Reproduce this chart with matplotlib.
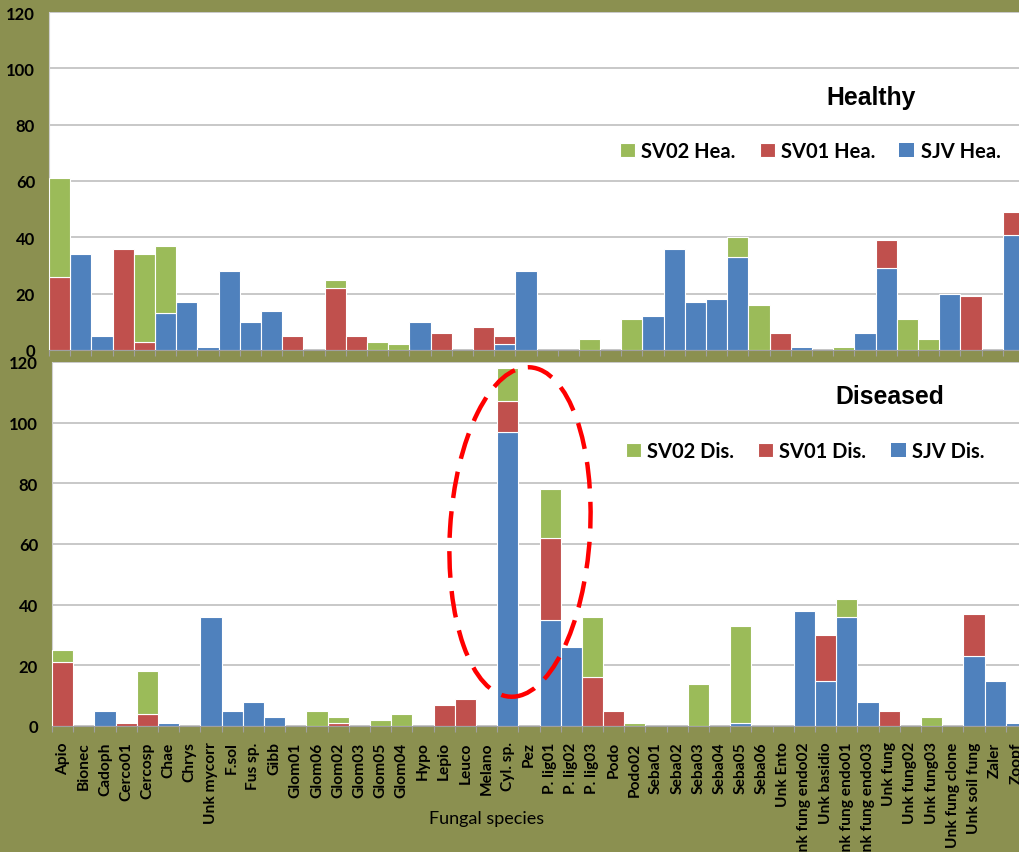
import matplotlib
matplotlib.use("Agg")
import matplotlib.pyplot as plt
from matplotlib.patches import Rectangle, Ellipse
import numpy as np

categories = ["Apio", "Bionec", "Cadoph", "Cerco01", "Cercosp", "Chae", "Chrys",
              "Unk mycorr", "F.sol", "Fus sp.", "Gibb", "Glom01", "Glom06", "Glom02",
              "Glom03", "Glom05", "Glom04", "Hypo", "Lepio", "Leuco", "Melano",
              "Cyl. sp.", "Pez", "P. lig01", "P. lig02", "P. lig03", "Podo", "Podo02",
              "Seba01", "Seba02", "Seba03", "Seba04", "Seba05", "Seba06", "Unk Ento",
              "Unk fung endo02", "Unk basidio", "Unk fung endo01", "Unk fung endo03",
              "Unk fung", "Unk fung02", "Unk fung03", "Unk fung clone", "Unk soil fung",
              "Zaler", "Zoopf"]

# Healthy
sjv_hea  = [0, 34, 5, 0, 0, 13, 17, 1, 28, 10, 14, 0, 0, 0, 0, 0, 0, 10, 0, 0, 0,
            2, 28, 0, 0, 0, 0, 0, 12, 36, 17, 18, 33, 0, 0, 1, 0, 0, 6, 29, 0, 0, 20, 0, 0, 41]
sv01_hea = [26, 0, 0, 36, 3, 0, 0, 0, 0, 0, 0, 5, 0, 22, 5, 0, 0, 0, 6, 0, 8,
            3, 0, 0, 0, 0, 0, 0, 0, 0, 0, 0, 0, 0, 6, 0, 0, 0, 0, 10, 0, 0, 0, 19, 0, 8]
sv02_hea = [35, 0, 0, 0, 31, 24, 0, 0, 0, 0, 0, 0, 0, 3, 0, 3, 2, 0, 0, 0, 0,
            0, 0, 0, 0, 4, 0, 11, 0, 0, 0, 0, 7, 16, 0, 0, 0, 1, 0, 0, 11, 4, 0, 0, 0, 0]

# Diseased
sjv_dis  = [0, 0, 5, 0, 0, 1, 0, 36, 5, 8, 3, 0, 0, 0, 0, 0, 0, 0, 0, 0, 0,
            97, 0, 35, 26, 0, 0, 0, 0, 0, 0, 0, 1, 0, 0, 38, 15, 36, 8, 0, 0, 0, 0, 23, 15, 1]
sv01_dis = [21, 0, 0, 1, 4, 0, 0, 0, 0, 0, 0, 0, 0, 1, 0, 0, 0, 0, 7, 9, 0,
            10, 0, 27, 0, 16, 5, 0, 0, 0, 0, 0, 0, 0, 0, 0, 15, 0, 0, 5, 0, 0, 0, 14, 0, 0]
sv02_dis = [4, 0, 0, 0, 14, 0, 0, 0, 0, 0, 0, 0, 5, 2, 0, 2, 4, 0, 0, 0, 0,
            11, 0, 16, 0, 20, 0, 1, 0, 0, 14, 0, 32, 0, 0, 0, 0, 6, 0, 0, 0, 3, 0, 0, 0, 0]

yticks = [0, 20, 40, 60, 80, 100, 120]

OLIVE = "#8B9050"
GREEN = "#9BBB59"
RED = "#C0504D"
BLUE = "#4F81BD"
GRID = "#C4C4C4"

W, H = 1019, 853
fig = plt.figure(figsize=(W / 100, H / 100), dpi=100, facecolor=OLIVE)

TICKFONT = "Lato"

def px_axes(left, top, bottom, width):
    return [left / W, 1 - bottom / H, width / W, (bottom - top) / H]

def draw_panel(ax, sjv, sv01, sv02, title, labels, title_xy, leg_xy, xpad):
    x = np.arange(len(categories))
    sjv = np.array(sjv); sv01 = np.array(sv01); sv02 = np.array(sv02)

    def edges(v):
        return ["white" if val > 0 else "none" for val in v]

    b1 = ax.bar(x, sjv, width=1.0, color=BLUE, edgecolor=edges(sjv), linewidth=0.8, zorder=3)
    b2 = ax.bar(x, sv01, bottom=sjv, width=1.0, color=RED, edgecolor=edges(sv01), linewidth=0.8, zorder=3)
    b3 = ax.bar(x, sv02, bottom=sjv + sv01, width=1.0, color=GREEN, edgecolor=edges(sv02), linewidth=0.8, zorder=3)
    ax.set_xlim(-0.5, len(categories) - 0.5)
    ax.set_ylim(0, 120)
    ax.set_yticks(yticks)
    ax.set_yticklabels([str(v) for v in yticks], fontfamily=TICKFONT, fontweight="bold", fontsize=12)
    ax.tick_params(axis="y", length=0, pad=10)
    ax.set_xticks(x)
    ax.set_xticklabels(categories, rotation=90, fontfamily=TICKFONT, fontweight="bold", fontsize=11.2)
    ax.tick_params(axis="x", which="major", length=0, pad=xpad)
    ax.set_xticks(np.arange(len(categories) + 1) - 0.5, minor=True)
    ax.tick_params(axis="x", which="minor", length=4, color="#A0A0A0", width=0.8)
    ax.grid(axis="y", color=GRID, linewidth=1.3, zorder=0)
    ax.set_axisbelow(True)
    for s in ["top", "right"]:
        ax.spines[s].set_visible(False)
    ax.spines["left"].set_color("#D0D0D0")
    ax.spines["bottom"].set_color("#A0A0A0")
    ax.set_facecolor("white")
    fig.text(title_xy[0] / W, 1 - title_xy[1] / H, title, fontfamily="Liberation Sans",
             fontweight="bold", fontsize=17.8, ha="center", va="center")
    ax.legend([b3, b2, b1], labels, ncol=3, loc="center left",
              bbox_to_anchor=(leg_xy[0] / W, 1 - leg_xy[1] / H),
              bbox_transform=fig.transFigure, frameon=False,
              prop={"family": TICKFONT, "weight": "bold", "size": 14.5},
              handlelength=0.75, handleheight=0.75, handletextpad=0.3,
              columnspacing=1.2, borderpad=0, borderaxespad=0)
    return ax

ax_top = fig.add_axes(px_axes(49, 13, 351, 975))
draw_panel(ax_top, sjv_hea, sv01_hea, sv02_hea, "Healthy",
           ["SV02 Hea.", "SV01 Hea.", "SJV Hea."], (871, 98), (620, 152), 8)
ax_top.set_zorder(0)

cover = Rectangle((0, 0), 1, 1 - 363 / H, transform=fig.transFigure,
                  facecolor=OLIVE, edgecolor="none", zorder=1)
fig.add_artist(cover)

ax_bot = fig.add_axes(px_axes(52, 363, 727, 975))
draw_panel(ax_bot, sjv_dis, sv01_dis, sv02_dis, "Diseased",
           ["SV02 Dis.", "SV01 Dis.", "SJV Dis."], (890, 397), (626, 452), 11)
ax_bot.set_zorder(2)
ax_bot.set_xlabel("Fungal species", fontfamily=TICKFONT, fontsize=13)
ax_bot.xaxis.set_label_coords((487 - 52) / 975, (727 - 811) / 364)
ax_bot.xaxis.label.set_va("top")

ell = Ellipse((520 / 100, (H - 533) / 100), 1.40, 3.30, angle=-3.5,
              transform=fig.dpi_scale_trans, fill=False, edgecolor="#FF0000",
              linewidth=3.2, linestyle=(0, (6, 3)), zorder=5)
fig.add_artist(ell)

fig.savefig("out.png", dpi=100, facecolor=OLIVE)
